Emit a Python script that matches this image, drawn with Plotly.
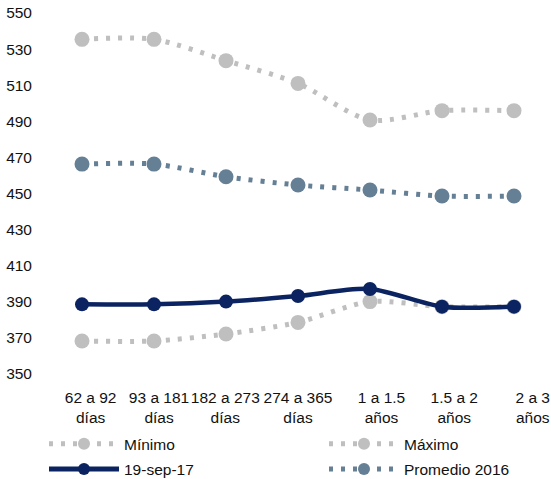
import plotly.graph_objects as go

categories = ["62 a 92<br>días", "93 a 181<br>días", "182 a 273<br>días", "274 a 365<br>días",
              "1 a 1.5<br>años", "1.5 a 2<br>años", "2 a 3<br>años"]
minimo = [368.3, 368.3, 372.2, 378.6, 390.1, 387.3, 387.3]
maximo = [535.4, 535.4, 523.6, 511.0, 490.7, 495.9, 495.9]
actual = [388.6, 388.6, 390.1, 393.2, 397.1, 387.3, 387.3]
promedio = [466.3, 466.3, 459.3, 454.7, 451.9, 448.6, 448.6]
y_ticks = list(range(350, 551, 20))

x = list(range(len(categories)))
# category labels sit slightly right of their points, as in the original workbook layout
label_shift = [0.12, 0.07, -0.01, 0.0, 0.16, 0.17, 0.26]
label_pos = [i + s for i, s in zip(x, label_shift)]

GRAY = "#BFBFBF"
SLATE = "#657F95"
NAVY = "#0B2461"
FONT = "Liberation Sans, Arial, sans-serif"
FS = 15.5
TXT = "#111111"

fig = go.Figure()

def dotted(name, values, color, legend):
    return go.Scatter(
        x=x, y=values, name=name, mode="lines+markers",
        line=dict(color=color, width=5, dash="4px,8px", shape="spline", smoothing=0.8),
        marker=dict(color=color, size=15),
        legend=legend, legendgroup=name,
    )

fig.add_trace(dotted("Máximo", maximo, GRAY, "legend2"))
fig.add_trace(dotted("Promedio 2016", promedio, SLATE, "legend2"))
fig.add_trace(dotted("Mínimo", minimo, GRAY, "legend"))
fig.add_trace(go.Scatter(
    x=x, y=actual, name="19-sep-17", mode="lines+markers",
    line=dict(color=NAVY, width=4.5, shape="spline", smoothing=0.8),
    marker=dict(color=NAVY, size=14),
    legend="legend", legendgroup="19-sep-17", legendrank=1001,
))

legend_common = dict(
    orientation="v", xref="container", yref="container",
    xanchor="left", yanchor="top", y=0.108,
    font=dict(family=FONT, size=FS, color=TXT),
    traceorder="grouped", tracegroupgap=2, itemwidth=70,
    itemsizing="constant",
    bgcolor="rgba(0,0,0,0)",
)

fig.update_layout(
    width=551, height=479,
    margin=dict(l=46, r=1, t=13, b=105, autoexpand=False),
    paper_bgcolor="white", plot_bgcolor="white",
    font=dict(family=FONT, size=FS, color=TXT),
    showlegend=True,
    legend=dict(x=44 / 551, **legend_common),
    legend2=dict(x=324 / 551, **legend_common),
    xaxis=dict(
        range=[-0.5, 6.5], tickmode="array", tickvals=label_pos, ticktext=categories,
        showgrid=False, zeroline=False, showline=False, ticks="",
        tickangle=0, ticklabelstandoff=12, ticklabeloverflow="allow",
        tickfont=dict(family=FONT, size=FS, color=TXT),
    ),
    yaxis=dict(
        range=[350, 550], tickmode="array", tickvals=y_ticks,
        showgrid=False, zeroline=False, showline=False, ticks="",
        ticklabelstandoff=13,
        tickfont=dict(family=FONT, size=FS, color=TXT),
    ),
)

fig.write_html("out.html")
